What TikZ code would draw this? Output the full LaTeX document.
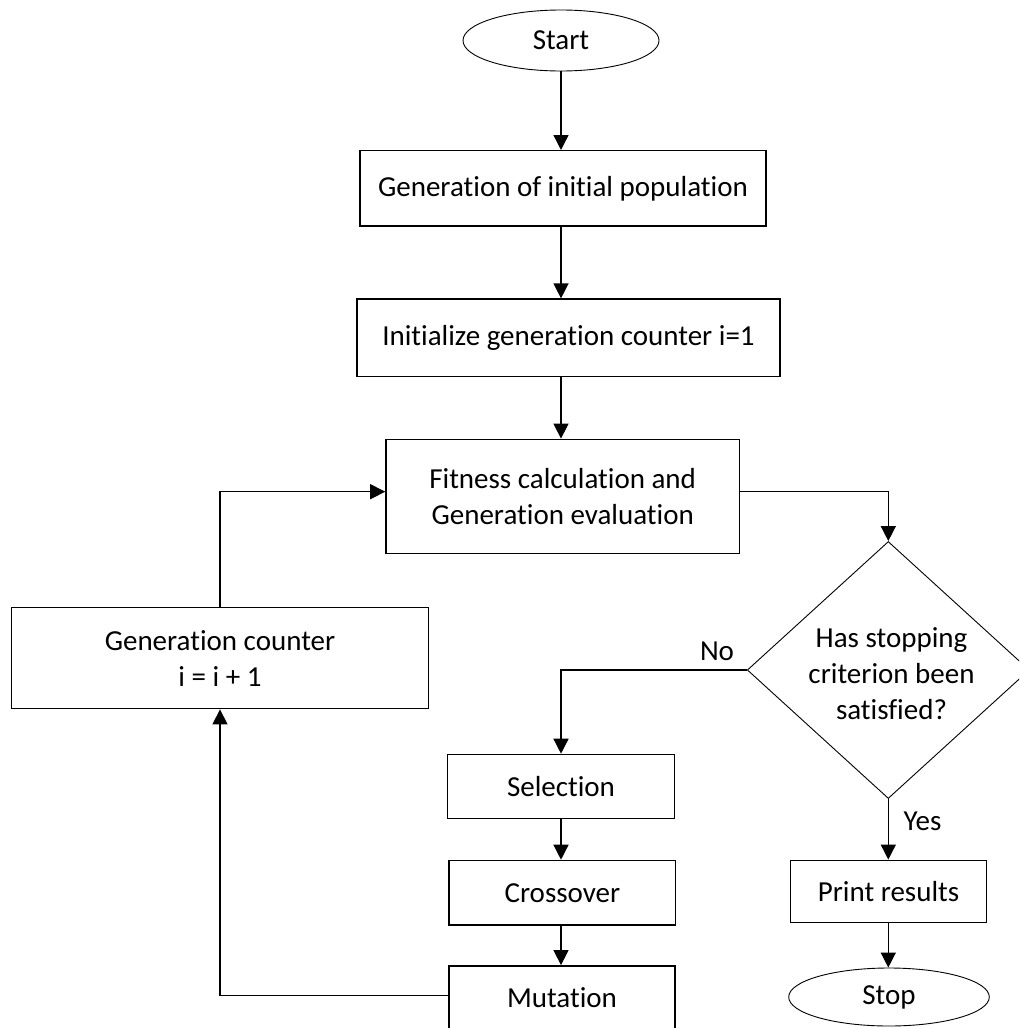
\documentclass[tikz,border=0pt]{standalone}
\usepackage{fontspec}
\setmainfont{Carlito}[Ligatures={NoCommon}]
\usetikzlibrary{shapes.geometric,arrows.meta}
\begin{document}
\begin{tikzpicture}[x=0.5pt,y=-0.5pt,
  every node/.style={font=\fontsize{14.5}{18}\selectfont, inner sep=0pt, align=center},
  procbox/.style={draw, line width=0.7pt, rectangle},
  termnode/.style={draw, line width=0.45pt, ellipse},
  decnode/.style={draw, line width=0.45pt, diamond},
  flow/.style={line width=0.7pt, -{Triangle[length=7.5pt,width=7.5pt]}},
  lbl/.style={font=\fontsize{14.5}{18}\selectfont}]
\clip (0,0) rectangle (1019,1028);
\fill[white] (0,0) rectangle (1019,1028);

\node[termnode, minimum width=98pt, minimum height=30.5pt] (start) at (561,40.5) {Start};
\node[procbox, minimum width=203pt, minimum height=37.7pt] (box1) at (563,188.4) {Generation of initial population};
\node[procbox, minimum width=211.5pt, minimum height=38.8pt] (box2) at (568.5,337.9) {Initialize generation counter i=1};
\node[procbox, minimum width=176.8pt, minimum height=57pt] (fit) at (562.7,496.3) {Fitness calculation and\\Generation evaluation};
\node[decnode, minimum width=141pt, minimum height=128.5pt] (dec) at (888.3,670) {};
\node (dectext) at (891.5,674) {Has stopping\\criterion been\\satisfied?};
\node[procbox, minimum width=208.7pt, minimum height=50.5pt] (gc) at (220,658.2) {Generation counter\\i = i + 1};
\node[procbox, minimum width=113.3pt, minimum height=32pt] (sel) at (561,786.4) {Selection};
\node[procbox, minimum width=113.3pt, minimum height=32.3pt] (cro) at (562.4,892.7) {Crossover};
\node[procbox, minimum width=113pt, minimum height=32.2pt] (mut) at (562,998) {Mutation};
\node[procbox, minimum width=97.8pt, minimum height=31pt] (print) at (888.5,891.3) {Print results};
\node[termnode, minimum width=100.3pt, minimum height=29pt] (stop) at (889,997) {Stop};

\node[lbl] (no) at (717,651) {No};
\node[lbl] (yes) at (922.5,821) {Yes};

\draw[flow] (start.south) -- (start.south |- box1.north);
\draw[flow] (box1.south -| start.south) -- (box2.north -| start.south);
\draw[flow] (box2.south -| start.south) -- (fit.north -| start.south);
\draw[flow] ([yshift=2.3pt]fit.east) -| (dec.north);
\draw[flow] (gc.north) |- ([yshift=2.3pt]fit.west);
\draw[flow] (dec.west) -| (sel.north);
\draw[flow] (sel.south) -- (sel.south |- cro.north);
\draw[flow] (cro.south -| sel.south) -- (mut.north -| sel.south);
\draw[flow] ([yshift=1.2pt]mut.west) -| (gc.south);
\draw[flow] (dec.south) -- (dec.south |- print.north);
\draw[flow] (print.south -| dec.south) -- (stop.north -| dec.south);
\end{tikzpicture}
\end{document}
